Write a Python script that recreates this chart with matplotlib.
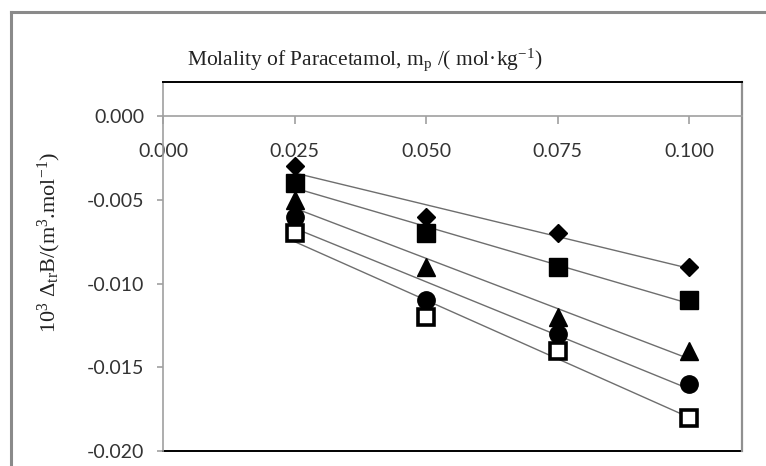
import numpy as np
import matplotlib
matplotlib.use("Agg")
import matplotlib.pyplot as plt
from matplotlib.lines import Line2D
from matplotlib.ticker import FixedLocator, FuncFormatter

# values
molality = [0.025, 0.050, 0.075, 0.100]
diamond = [-0.003, -0.006, -0.007, -0.009]
square = [-0.004, -0.007, -0.009, -0.011]
triangle = [-0.005, -0.009, -0.012, -0.014]
circle = [-0.006, -0.011, -0.013, -0.016]
open_square = [-0.007, -0.012, -0.014, -0.018]

x_ticks = [0.0, 0.025, 0.050, 0.075, 0.100]
y_ticks = [0.0, -0.005, -0.010, -0.015, -0.020]

plt.rcParams['mathtext.fontset'] = 'custom'
plt.rcParams['mathtext.rm'] = 'Liberation Serif'
plt.rcParams['mathtext.it'] = 'Liberation Serif:italic'

fig = plt.figure(figsize=(7.66, 4.66), dpi=100)
W, H = 766, 466

# outer frame (left and top edges visible)
fig.add_artist(Line2D([11 / W, 11 / W], [0, 1 - 12 / H], color='#8a8a8a', lw=2.2))
fig.add_artist(Line2D([11 / W, 1], [1 - 12 / H, 1 - 12 / H], color='#8a8a8a', lw=2.2))

ax = fig.add_axes([163 / W, 1 - 451 / H, (742 - 163) / W, (451 - 82) / H])
ax.set_xlim(0, 0.11)
ax.set_ylim(-0.020, 0.00203)

series = [
    (diamond, dict(marker='D', ms=9.5, mfc='black', mec='black')),
    (square, dict(marker='s', ms=12.5, mfc='black', mec='black')),
    (triangle, dict(marker='^', ms=13, mfc='black', mec='black')),
    (circle, dict(marker='o', ms=12.5, mfc='black', mec='black')),
    (open_square, dict(marker='s', ms=12, mfc='white', mec='black', mew=2.6)),
]

x = np.array(molality)
for ys, style in series:
    k, b = np.polyfit(x, ys, 1)
    ax.plot(x[[0, -1]], k * x[[0, -1]] + b, color='#6e6e6e', lw=1.0, zorder=2)
for ys, style in series:
    ax.plot(molality, ys, linestyle='none', zorder=3, clip_on=False, **style)

# spines: x axis crossing at zero, plot area border
ax.spines['bottom'].set_position(('data', 0))
ax.spines['bottom'].set_color('#a0a0a0')
ax.spines['left'].set_color('#a0a0a0')
ax.spines['right'].set_color('#909090')
ax.spines['right'].set_linewidth(1.6)
ax.spines['top'].set_color('black')
ax.spines['top'].set_linewidth(1.4)
for s in ['bottom', 'left']:
    ax.spines[s].set_linewidth(1.2)
ax.plot([0, 1], [0, 0], transform=ax.transAxes, color='black', lw=1.4, clip_on=False)

ax.xaxis.set_major_locator(FixedLocator(x_ticks))
ax.yaxis.set_major_locator(FixedLocator(y_ticks))
ax.xaxis.set_major_formatter(FuncFormatter(lambda v, p: f"{v:.3f}"))
ax.yaxis.set_major_formatter(FuncFormatter(lambda v, p: f"{v:.3f}".replace('\u2212', '-')))
ax.tick_params(axis='x', direction='out', length=5.8, width=1.2, color='#a0a0a0',
               pad=13.5, labelsize=14, labelcolor='#333333')
ax.tick_params(axis='y', direction='out', length=4.5, width=1.2, color='#a0a0a0',
               pad=9, labelsize=14, labelcolor='#333333')
for lab in ax.get_xticklabels() + ax.get_yticklabels():
    lab.set_family('Lato')

fig.text(365 / W, 1 - 60 / H,
         r"Molality of Paracetamol, m$_\mathrm{p}$ /( mol·kg$^{\mathrm{-1}}$)",
         ha='center', va='center', fontsize=15.5, family='Liberation Serif', color='#222222')
fig.text(49 / W, 1 - 243 / H,
         r"10$^{\mathrm{3}}$ Δ$_{\mathrm{tr}}$B/(m$^{\mathrm{3}}$.mol$^{\mathrm{-1}}$)",
         ha='center', va='center', rotation=90, fontsize=16, family='Liberation Serif',
         color='#222222')

fig.savefig("out.png", dpi=100)
